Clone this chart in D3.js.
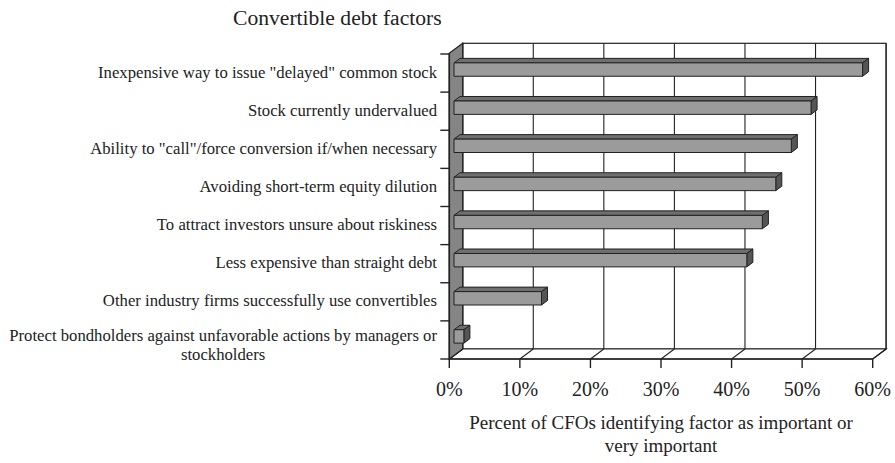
<!DOCTYPE html>
<html>
<head>
<meta charset="utf-8">
<script src="https://cdnjs.cloudflare.com/ajax/libs/d3/7.8.5/d3.min.js"></script>
<style>
  body { margin: 0; background: #fff; }
  text { font-family: "Liberation Serif", "Times New Roman", serif; fill: #222; }
</style>
</head>
<body>
<svg width="895" height="463"></svg>
<script>
// data
var categories = [
  "Inexpensive way to issue \"delayed\" common stock",
  "Stock currently undervalued",
  "Ability to \"call\"/force conversion if/when necessary",
  "Avoiding short-term equity dilution",
  "To attract investors unsure about riskiness",
  "Less expensive than straight debt",
  "Other industry firms successfully use convertibles",
  "Protect bondholders against unfavorable actions by managers or\nstockholders"
];
var values = [57.9, 50.6, 47.8, 45.6, 43.7, 41.5, 12.4, 1.4];
var ticks = [0, 10, 20, 30, 40, 50, 60];
var tickLabels = ["0%", "10%", "20%", "30%", "40%", "50%", "60%"];

var svg = d3.select("svg");

var x = d3.scaleLinear().domain([0, 60]).range([449.3, 872.7]);
var y = d3.scaleBand().domain(categories).range([54, 359]);

// 3d depth of the box
var DX = 13.4, DY = -10;
var top0 = 53.3, bottom0 = 359;
// bar sits between these depth fractions
var b0 = 0.35, b1 = 0.8;

// back wall
svg.append("rect")
  .attr("x", x(0) + DX).attr("y", top0 + DY)
  .attr("width", x(60) - x(0)).attr("height", bottom0 - top0)
  .attr("fill", "#fff").attr("stroke", "#222").attr("stroke-width", 1.2);

// floor
svg.append("polygon")
  .attr("points", [[x(0), bottom0], [x(0) + DX, bottom0 + DY], [x(60) + DX, bottom0 + DY], [x(60), bottom0]].join(" "))
  .attr("fill", "#fff").attr("stroke", "#222").attr("stroke-width", 1.2);

// grid on the back wall and floor
ticks.forEach(function(t) {
  svg.append("line")
    .attr("x1", x(t) + DX).attr("y1", top0 + DY)
    .attr("x2", x(t) + DX).attr("y2", bottom0 + DY)
    .attr("stroke", "#222").attr("stroke-width", 1.1);
  svg.append("line")
    .attr("x1", x(t)).attr("y1", bottom0)
    .attr("x2", x(t) + DX).attr("y2", bottom0 + DY)
    .attr("stroke", "#222").attr("stroke-width", 1.1);
});

// left wall
svg.append("polygon")
  .attr("points", [[x(0), top0], [x(0) + DX, top0 + DY], [x(0) + DX, bottom0 + DY], [x(0), bottom0]].join(" "))
  .attr("fill", "#858585").attr("stroke", "#222").attr("stroke-width", 1.2);

// bars
var bh = 13.4;
categories.forEach(function(c, i) {
  var cy = y(c) + y.bandwidth() / 2 + DY * b0;
  var xa = x(0) + DX * b0, xb = x(values[i]) + DX * b0;
  var ya = cy - bh / 2, yb = cy + bh / 2;
  var ddx = DX * (b1 - b0), ddy = DY * (b1 - b0);
  var g = svg.append("g").attr("stroke", "#222").attr("stroke-width", 1).attr("stroke-linejoin", "round");
  g.append("polygon")
    .attr("points", [[xa, ya], [xa + ddx, ya + ddy], [xb + ddx, ya + ddy], [xb, ya]].join(" "))
    .attr("fill", "#6f6f6f");
  g.append("polygon")
    .attr("points", [[xb, ya], [xb + ddx, ya + ddy], [xb + ddx, yb + ddy], [xb, yb]].join(" "))
    .attr("fill", "#555");
  g.append("rect")
    .attr("x", xa).attr("y", ya).attr("width", xb - xa).attr("height", bh)
    .attr("fill", "#9b9b9b");
});

// axes lines
svg.append("line")
  .attr("x1", x(0)).attr("y1", top0).attr("x2", x(0)).attr("y2", bottom0)
  .attr("stroke", "#222").attr("stroke-width", 1.6);
svg.append("line")
  .attr("x1", x(0)).attr("y1", bottom0).attr("x2", x(60)).attr("y2", bottom0)
  .attr("stroke", "#222").attr("stroke-width", 1.6);

// y ticks at band edges
var edges = categories.map(function(c) { return y(c); }).concat([y.range()[1]]);
edges.forEach(function(e) {
  svg.append("line")
    .attr("x1", x(0) - 9).attr("y1", e).attr("x2", x(0)).attr("y2", e)
    .attr("stroke", "#222").attr("stroke-width", 1.4);
});

// x ticks + labels
ticks.forEach(function(t, i) {
  svg.append("line")
    .attr("x1", x(t)).attr("y1", bottom0).attr("x2", x(t)).attr("y2", bottom0 + 9)
    .attr("stroke", "#222").attr("stroke-width", 1.4);
  svg.append("text")
    .attr("x", x(t)).attr("y", 396)
    .attr("text-anchor", "middle")
    .style("font-size", "20px")
    .text(tickLabels[i]);
});

// category labels
var labelRight = 437;
categories.forEach(function(c) {
  var lines = c.split("\n");
  var cy = y(c) + y.bandwidth() / 2;
  var t = svg.append("text")
    .style("font-size", "16.7px")
    .attr("text-anchor", lines.length > 1 ? "middle" : "end");
  if (lines.length == 1) {
    t.attr("x", labelRight).attr("y", cy + 4.5).text(c);
  } else {
    t.attr("y", cy + 1);
    var ts = t.selectAll("tspan").data(lines).enter().append("tspan")
      .attr("dy", function(d, j) { return j ? 19 : 0; })
      .text(function(d) { return d; });
    var w = d3.max(ts.nodes(), function(n) { return n.getComputedTextLength(); });
    ts.attr("x", labelRight - w / 2);
  }
});

// title
svg.append("text")
  .attr("x", 233).attr("y", 25)
  .style("font-size", "21.6px")
  .text("Convertible debt factors");

// axis title
svg.append("text")
  .attr("x", 661).attr("y", 429)
  .attr("text-anchor", "middle")
  .style("font-size", "19px")
  .text("Percent of CFOs identifying factor as important or");
svg.append("text")
  .attr("x", 661).attr("y", 452)
  .attr("text-anchor", "middle")
  .style("font-size", "19px")
  .text("very important");
</script>
</body>
</html>
